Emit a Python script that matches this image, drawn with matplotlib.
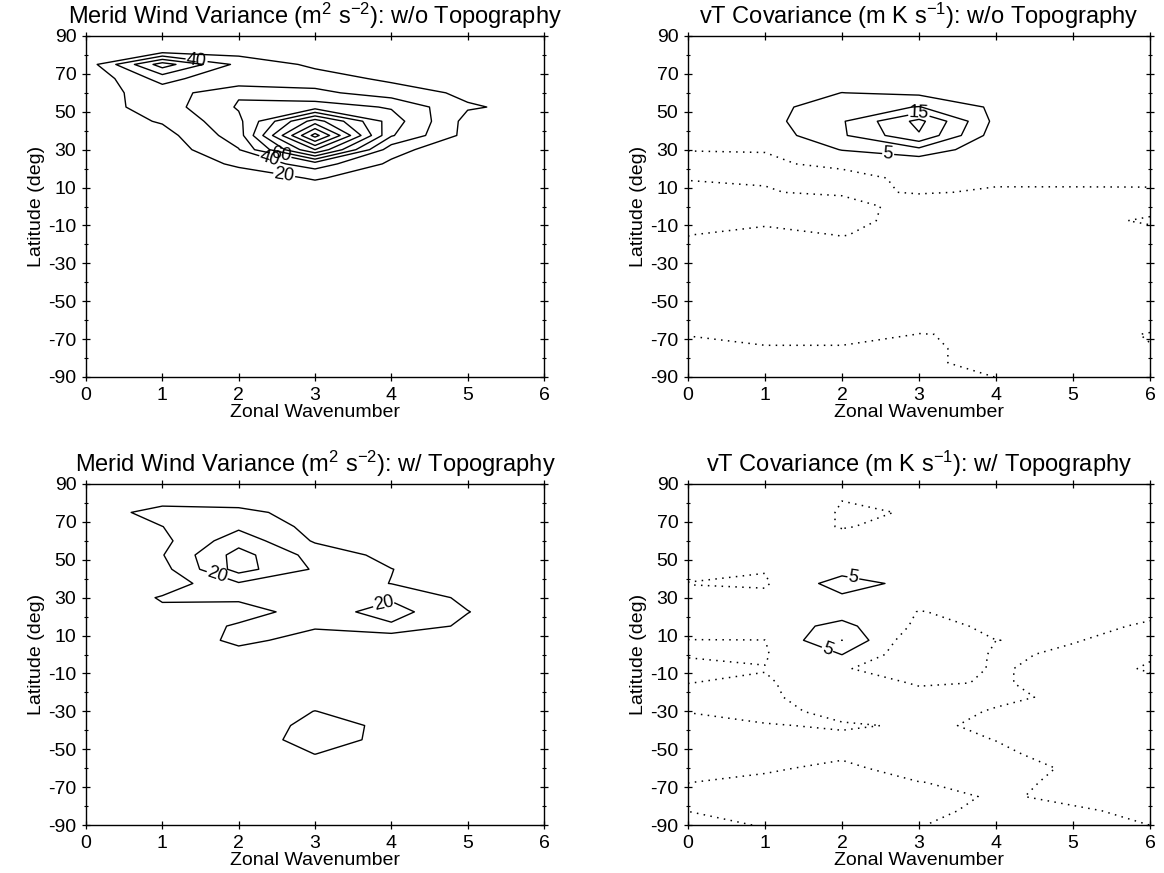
import numpy as np
import matplotlib
matplotlib.use("Agg")
import matplotlib.pyplot as plt

plt.rcParams['font.family'] = ['Liberation Sans', 'DejaVu Sans']
plt.rcParams['mathtext.fontset'] = 'custom'
plt.rcParams['mathtext.rm'] = 'Liberation Sans'
plt.rcParams['mathtext.it'] = 'Liberation Sans:italic'
plt.rcParams['mathtext.bf'] = 'Liberation Sans:bold'
plt.rcParams['axes.unicode_minus'] = False

# ---------------- data ----------------
wavenumber = [0, 1, 2, 3, 4, 5, 6]
latitude = [90, 82.5, 75, 67.5, 60, 52.5, 45, 37.5, 30, 22.5, 15, 7.5, 0,
            -7.5, -15, -22.5, -30, -37.5, -45, -52.5, -60, -67.5, -75, -82.5, -90]

# Meridional wind variance, without topography (rows = latitude, cols = wavenumber)
vvar_notopo = [
    [0, 2, 2, 2, 1, 1, 0],
    [3, 5, 10, 8, 5, 3, 1],
    [8, 90, 34, 16, 8, 4, 1],
    [3, 48, 21, 29, 16, 8, 2],
    [12, 28, 58, 45, 30, 16, 5],
    [9, 30, 62, 70, 58, 22, 14],
    [7, 22, 55, 150, 70, 13, 5],
    [4, 12, 50, 208, 62, 13, 3],
    [2, 8, 39, 140, 28, 2, 1],
    [1, 3, 24, 50, 16, 2, 1],
    [1, 2, 8, 22, 8, 2, 1],
    [1, 1, 3, 8, 3, 1, 1],
    [1, 1, 2, 4, 2, 1, 1],
    [1, 1, 2, 3, 2, 1, 1],
    [1, 2, 3, 4, 3, 2, 1],
    [1, 2, 4, 5, 4, 2, 1],
    [1, 2, 4, 6, 4, 2, 1],
    [1, 2, 5, 7, 5, 2, 1],
    [1, 2, 5, 7, 5, 2, 1],
    [1, 2, 4, 6, 4, 2, 1],
    [1, 2, 3, 4, 3, 2, 1],
    [1, 1, 2, 3, 2, 1, 1],
    [1, 1, 1, 2, 1, 1, 1],
    [0, 1, 1, 1, 1, 1, 0],
    [0, 0, 0, 0, 0, 0, 0],
]

# vT covariance, without topography
vt_notopo = [
    [1.0, 1.0, 1.0, 1.0, 1.0, 1.0, 1.0],
    [1.5, 1.5, 1.5, 1.5, 1.5, 1.5, 1.5],
    [2.0, 2.0, 2.0, 2.0, 2.0, 2.0, 1.5],
    [2.0, 2.5, 2.5, 3.0, 2.5, 2.0, 1.5],
    [2.0, 2.5, 5.05, 4.0, 3.0, 2.0, 1.5],
    [1.5, 3.2, 8.0, 10.2, 4.0, 2.0, 1.0],
    [1.5, 3.25, 9.5, 21.5, 3.5, 1.5, 1.0],
    [1.0, 2.0, 9.3, 19.5, 2.2, 1.2, 0.8],
    [0.05, 0.1, 5.2, 8.6, 1.0, 0.8, 0.6],
    [-0.5, -0.4, 0.6, 1.1, 0.8, 0.6, 0.5],
    [-0.1, -0.5, -1.0, 0.72, 1.0, 0.8, 0.7],
    [0.5, 0.4, -1.3, 0.5, -0.63, -0.5, -0.4],
    [0.8, 0.8, 4.0, -4.0, -1.0, -1.0, -0.5],
    [0.5, 0.6, 1.6, -2.0, -1.0, -0.5, 0.2],
    [0.05, -0.9, 0.1, -1.0, -1.0, -0.8, -0.5],
    [-0.5, -1.0, -1.0, -1.0, -1.0, -1.0, -0.8],
    [-1.0, -1.0, -1.0, -1.0, -1.0, -1.0, -0.8],
    [-1.0, -1.0, -1.0, -1.0, -1.0, -1.0, -0.8],
    [-1.0, -1.0, -1.0, -1.0, -1.0, -1.0, -0.8],
    [-1.0, -1.0, -1.0, -1.0, -1.0, -1.0, -0.8],
    [-0.8, -1.0, -1.0, -0.8, -1.0, -1.0, -1.0],
    [-0.1, -1.0, -1.0, 0.05, -0.2, -1.0, 0.15],
    [0.8, 0.3, 0.3, 0.6, -1.0, -1.0, -0.1],
    [1.0, 1.0, 1.0, 0.6, -1.0, -1.0, -0.5],
    [1.0, 1.0, 1.0, 1.0, -0.02, -1.0, -0.5],
]

# Meridional wind variance, with topography
vvar_topo = [
    [1, 2, 3, 2, 1, 1, 1],
    [2, 5, 6, 4, 2, 1, 1],
    [4.2, 14, 12, 6.9, 3, 2, 1],
    [3, 9.9, 18, 7, 4, 2, 1],
    [2, 7.4, 26, 8.9, 5, 2, 1],
    [2, 9.5, 34, 16, 7, 3, 1],
    [2, 6.6, 34, 18.8, 10.2, 4, 1],
    [1, 4, 19, 15, 9.8, 5, 1],
    [0.5, 11, 12, 15, 18.5, 7.6, 2],
    [0.5, 8, 5, 15.2, 24.2, 10.3, 2],
    [0.5, 2, 11.5, 10.8, 18.4, 7.6, 2],
    [0.5, 3.7, 12, 7, 2, 2, 1],
    [0.5, 2, 7, 3, 1, 1, 1],
    [0.5, 1, 5, 3, 1, 1, 0.5],
    [0.5, 1, 3, 4, 2, 1, 0.5],
    [0.5, 1, 2, 5, 2, 1, 0.5],
    [0.5, 1, 3, 10.2, 4, 1, 0.5],
    [0.5, 1, 1.5, 14, 7.85, 2, 0.5],
    [0.5, 1, 4.5, 14, 7.5, 2, 0.5],
    [0.5, 1, 3, 10.1, 4, 1, 0.5],
    [0.5, 1, 2, 5, 2, 1, 0.5],
    [0.5, 1, 1, 2, 1, 1, 0.5],
    [0.5, 1, 1, 1, 1, 1, 0.5],
    [0.5, 0.5, 1, 1, 1, 0.5, 0.5],
    [0.5, 0.5, 0.5, 0.5, 0.5, 0.5, 0.5],
]

# vT covariance, with topography
vt_topo = [
    [0.5, 0.5, 0.5, 0.5, 0.5, 0.5, 0.5],
    [1.0, 1.0, 0.05, 0.5, 0.5, 0.5, 0.5],
    [1.0, 2.0, -0.2, 0.1, 0.5, 0.5, 0.5],
    [1.0, 1.0, -0.1, 0.5, 0.5, 0.5, 0.5],
    [1.0, 1.0, 0.6, 0.8, 0.8, 0.5, 0.5],
    [1.0, 1.0, 1.0, 1.0, 0.8, 0.5, 0.5],
    [0.5, 0.2, 2.9, 1.0, 0.8, 0.5, 0.5],
    [-0.05, -0.5, 7.4, 3.1, 0.8, 0.5, 0.5],
    [0.5, 1.0, 4.1, 1.0, 0.8, 0.5, 0.5],
    [1.0, 1.5, 2.75, -0.1, 0.8, 0.8, 0.5],
    [1.0, 2.2, 6.5, -1.0, 0.54, 0.7, -0.3],
    [-0.05, -0.05, 10.05, -4.4, -0.01, 0.15, -1.0],
    [-0.3, -0.3, 5.05, -4.0, 0.5, -0.5, -0.2],
    [1.0, 0.1, 0.3, -2.0, 0.3, -1.0, 0.2],
    [0.02, -0.3, 1.7, -0.3, 0.15, -0.5, -0.5],
    [-0.5, -0.5, 1.6, 1.0, 0.5, -0.5, -0.5],
    [-0.05, -1.5, 1.5, 1.0, -0.2, -0.5, -0.5],
    [0.5, 0.3, -0.5, 0.5, -0.5, -0.5, -0.5],
    [0.5, 0.6, 1.0, 1.0, -0.05, -0.5, -0.5],
    [0.5, 0.5, 0.4, 1.0, 0.5, -1.0, -0.5],
    [0.5, 0.3, -0.5, 1.0, 1.0, -0.3, -0.5],
    [0.03, -0.5, -0.5, -0.05, 0.5, -0.4, -0.5],
    [-0.5, -0.5, -0.5, -1.0, 0.3, -0.5, -0.5],
    [-0.02, -0.5, -0.5, -1.0, 1.0, 0.3, -0.5],
    [0.5, -0.1, -0.5, -0.1, 1.0, 1.0, -0.01],
]

var_levels = [20, 40, 60, 80, 100, 120, 140, 160, 180, 200]
var_topo_levels = [10, 20, 30]
vt_levels = [5, 10, 15, 20]
zero_level = [0]

titles = [
    r'Merid Wind Variance (m$^2$ s$^{-2}$): w/o Topography',
    r'vT Covariance (m K s$^{-1}$): w/o Topography',
    r'Merid Wind Variance (m$^2$ s$^{-2}$): w/ Topography',
    r'vT Covariance (m K s$^{-1}$): w/ Topography',
]

# ---------------- figure ----------------
W, H = 1164, 873
fig = plt.figure(figsize=(W / 100, H / 100), dpi=100)


def add_ax(x0, y0, x1, y1):
    return fig.add_axes([x0 / W, 1 - y1 / H, (x1 - x0) / W, (y1 - y0) / H])


axs = [add_ax(86, 36, 544, 377), add_ax(688, 36, 1150, 377),
       add_ax(86, 484, 544, 825), add_ax(688, 484, 1150, 825)]

lat_up = np.array(latitude)[::-1]
k = np.array(wavenumber)


def grid(z):
    return np.array(z, dtype=float)[::-1]


dot_style = (0, (1, 3.5))
lab = dict(fmt='%d', fontsize=13, inline=True, inline_spacing=1)

# Panel 1
ax = axs[0]
cs = ax.contour(k, lat_up, grid(vvar_notopo), levels=var_levels, colors='k', linewidths=1.0)
ax.clabel(cs, manual=[(1.45, 77.6), (2.6, 17.5), (2.4, 24.0), (2.55, 27.4)], **lab)

# Panel 2
ax = axs[1]
z = grid(vt_notopo)
ax.contour(k, lat_up, z, levels=zero_level, colors='k', linewidths=1.1, linestyles=[dot_style])
cs = ax.contour(k, lat_up, z, levels=vt_levels, colors='k', linewidths=1.0)
ax.clabel(cs, manual=[(3.0, 49.5), (2.6, 28.0)], **lab)

# Panel 3
ax = axs[2]
z = grid(vvar_topo)
ax.contour(k, lat_up, z, levels=[v for v in var_topo_levels if v != 20], colors='k', linewidths=1.0)
cs = ax.contour(k, lat_up, z, levels=[20], colors='k', linewidths=1.0)
ax.clabel(cs, manual=[(1.72, 42.0), (3.9, 27.0)], **lab)

# Panel 4
ax = axs[3]
z = grid(vt_topo)
ax.contour(k, lat_up, z, levels=zero_level, colors='k', linewidths=1.1, linestyles=[dot_style])
ax.contour(k, lat_up, z, levels=[v for v in vt_levels if v != 5], colors='k', linewidths=1.0)
cs = ax.contour(k, lat_up, z, levels=[5], colors='k', linewidths=1.0)
ax.clabel(cs, manual=[(2.15, 41.0), (1.8, 1.5)], **lab)

for ax, t in zip(axs, titles):
    ax.set_xlim(0, 6)
    ax.set_ylim(-90, 90)
    ax.set_xticks(wavenumber)
    ax.set_yticks(range(-90, 91, 20))
    ax.set_yticks(range(-80, 81, 20), minor=True)
    ax.tick_params(which='major', direction='inout', length=6, width=0.9,
                   top=True, right=True, labelsize=14, pad=4)
    ax.tick_params(which='minor', direction='inout', length=3, width=0.8,
                   top=False, right=True)
    ax.set_title(t, fontsize=17, pad=9)
    ax.set_xlabel('Zonal Wavenumber', fontsize=14, labelpad=0)
    ax.set_ylabel('Latitude (deg)', fontsize=14, labelpad=2)
    for s in ax.spines.values():
        s.set_linewidth(1.0)

fig.savefig('out.png', dpi=100)
